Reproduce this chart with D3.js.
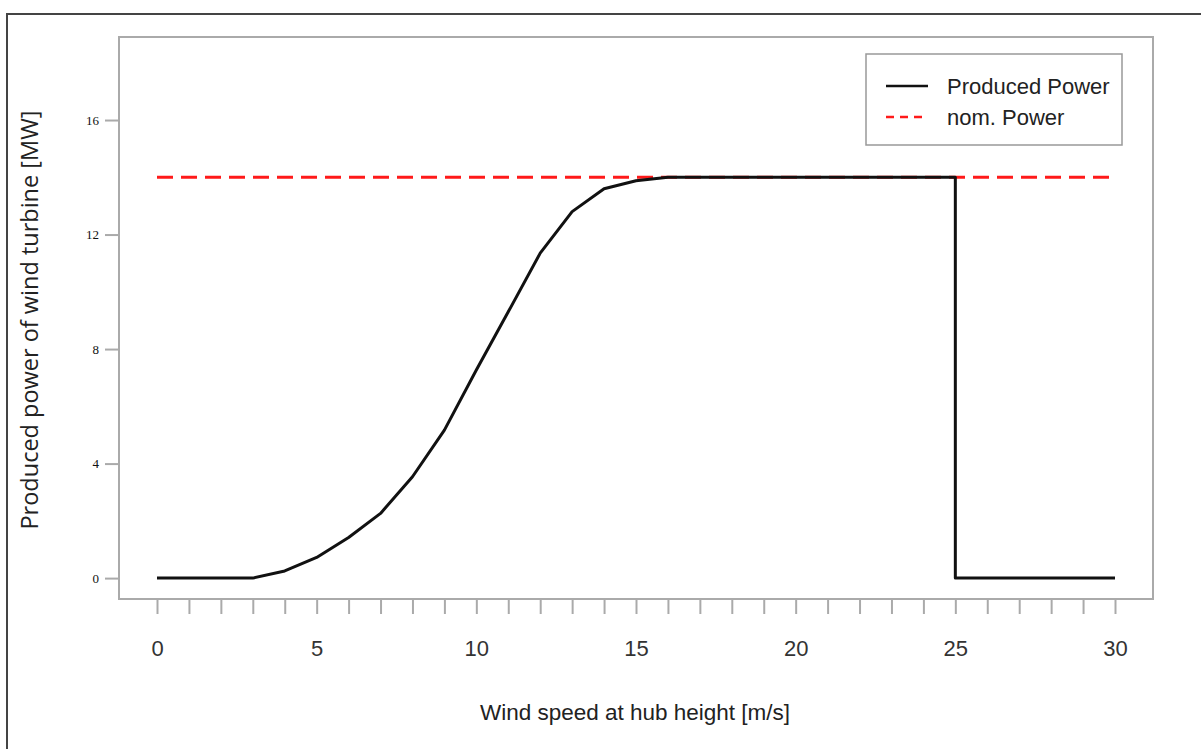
<!DOCTYPE html>
<html>
<head>
<meta charset="utf-8">
<script src="https://cdn.jsdelivr.net/npm/d3@7"></script>
<style>
    body { margin: 0; background: #fff; }
    svg { display: block; }
</style>
</head>
<body>
<div id="chart"></div>
<script>
"use strict";

// wind speed [m/s] and produced power [MW]; 25 appears twice for the cut-out drop
var windSpeed = [0, 1, 2, 3, 4, 5, 6, 7, 8, 9, 10, 11, 12, 13, 14, 15, 16, 17, 18, 19, 20,
    21, 22, 23, 24, 25, 25, 26, 27, 28, 29, 30];
var producedPower = [0, 0, 0, 0, 0.25, 0.72, 1.42, 2.26, 3.54, 5.17, 7.27, 9.3, 11.35, 12.8, 13.6, 13.88, 14, 14, 14, 14, 14,
    14, 14, 14, 14, 14, 0, 0, 0, 0, 0, 0];
var nominalPower = 14;
var nominalRange = [0, 30];

var xTicks = d3.range(0, 31, 1);
var xLabels = [0, 5, 10, 15, 20, 25, 30];
var yTicks = [0, 4, 8, 12, 16];
var legendItems = ["Produced Power", "nom. Power"];

var width = 1201;
var height = 749;

var svg = d3.select("#chart")
    .append("svg")
    .attr("width", width)
    .attr("height", height);

// outer frame (only top and left edges are visible)
svg.append("rect")
    .attr("x", 7)
    .attr("y", 14)
    .attr("width", 1220)
    .attr("height", 760)
    .attr("fill", "none")
    .attr("stroke", "#444")
    .attr("stroke-width", 2);

var box = { left: 119, top: 37, right: 1153, bottom: 599 };

var x = d3.scaleLinear()
    .domain([-1.19, 31.19])
    .range([box.left, box.right]);

var y = d3.scaleLinear()
    .domain([-0.73, 18.9])
    .range([box.bottom, box.top]);

// x axis
var xAxis = svg.append("g")
    .attr("transform", "translate(0," + box.bottom + ")")
    .call(d3.axisBottom(x)
        .tickValues(xTicks)
        .tickSize(15)
        .tickPadding(26)
        .tickFormat(function(d) { return xLabels.indexOf(d) >= 0 ? d : ""; }));
xAxis.select(".domain").remove();
xAxis.selectAll("line").attr("stroke", "#aaa").attr("stroke-width", 2);
xAxis.selectAll("text")
    .attr("fill", "#333")
    .style("font-family", "'Liberation Sans', Arial, sans-serif")
    .style("font-size", "22px");

// y axis
var yAxis = svg.append("g")
    .attr("transform", "translate(" + box.left + ",0)")
    .call(d3.axisLeft(y)
        .tickValues(yTicks)
        .tickSize(14)
        .tickPadding(6));
yAxis.select(".domain").remove();
yAxis.selectAll("line").attr("stroke", "#aaa").attr("stroke-width", 2);
yAxis.selectAll("text")
    .attr("fill", "#111")
    .style("font-family", "'Liberation Serif', serif")
    .style("font-size", "13px");

// plot box
svg.append("rect")
    .attr("x", box.left)
    .attr("y", box.top)
    .attr("width", box.right - box.left)
    .attr("height", box.bottom - box.top)
    .attr("fill", "none")
    .attr("stroke", "#aaa")
    .attr("stroke-width", 2);

// nominal power
svg.append("line")
    .attr("x1", x(nominalRange[0]))
    .attr("x2", x(nominalRange[1]))
    .attr("y1", y(nominalPower))
    .attr("y2", y(nominalPower))
    .attr("stroke", "#ff1a1a")
    .attr("stroke-width", 3)
    .attr("stroke-dasharray", "16,8");

// produced power curve
var line = d3.line()
    .x(function(d, i) { return x(windSpeed[i]); })
    .y(function(d) { return y(d); });

svg.append("path")
    .datum(producedPower)
    .attr("d", line)
    .attr("fill", "none")
    .attr("stroke", "#111")
    .attr("stroke-width", 3)
    .attr("stroke-linejoin", "round");

// axis titles
svg.append("text")
    .attr("x", 635)
    .attr("y", 720)
    .attr("text-anchor", "middle")
    .attr("fill", "#222")
    .style("font-family", "'Liberation Sans', Arial, sans-serif")
    .style("font-size", "22.5px")
    .text("Wind speed at hub height [m/s]");

svg.append("text")
    .attr("transform", "translate(38,320) rotate(-90)")
    .attr("text-anchor", "middle")
    .attr("fill", "#222")
    .style("font-family", "'Open Sans', sans-serif")
    .style("font-size", "23.5px")
    .text("Produced power of wind turbine [MW]");

// legend
var legend = svg.append("g");
legend.append("rect")
    .attr("x", 866)
    .attr("y", 54)
    .attr("width", 256)
    .attr("height", 91)
    .attr("fill", "#fff")
    .attr("stroke", "#999")
    .attr("stroke-width", 1.5);

var rows = legend.selectAll("g.row")
    .data(legendItems)
    .enter()
    .append("g")
    .attr("class", "row")
    .attr("transform", function(d, i) { return "translate(0," + (86 + i * 31) + ")"; });

rows.append("line")
    .attr("x1", 886)
    .attr("x2", 928)
    .attr("stroke", function(d, i) { return i === 0 ? "#111" : "#ff1a1a"; })
    .attr("stroke-width", 2.5)
    .attr("stroke-dasharray", function(d, i) { return i === 0 ? null : "8,6"; });

rows.append("text")
    .attr("x", 947)
    .attr("dy", "0.35em")
    .attr("fill", "#222")
    .style("font-family", "'Liberation Sans', Arial, sans-serif")
    .style("font-size", "22px")
    .text(function(d) { return d; });
</script>
</body>
</html>
